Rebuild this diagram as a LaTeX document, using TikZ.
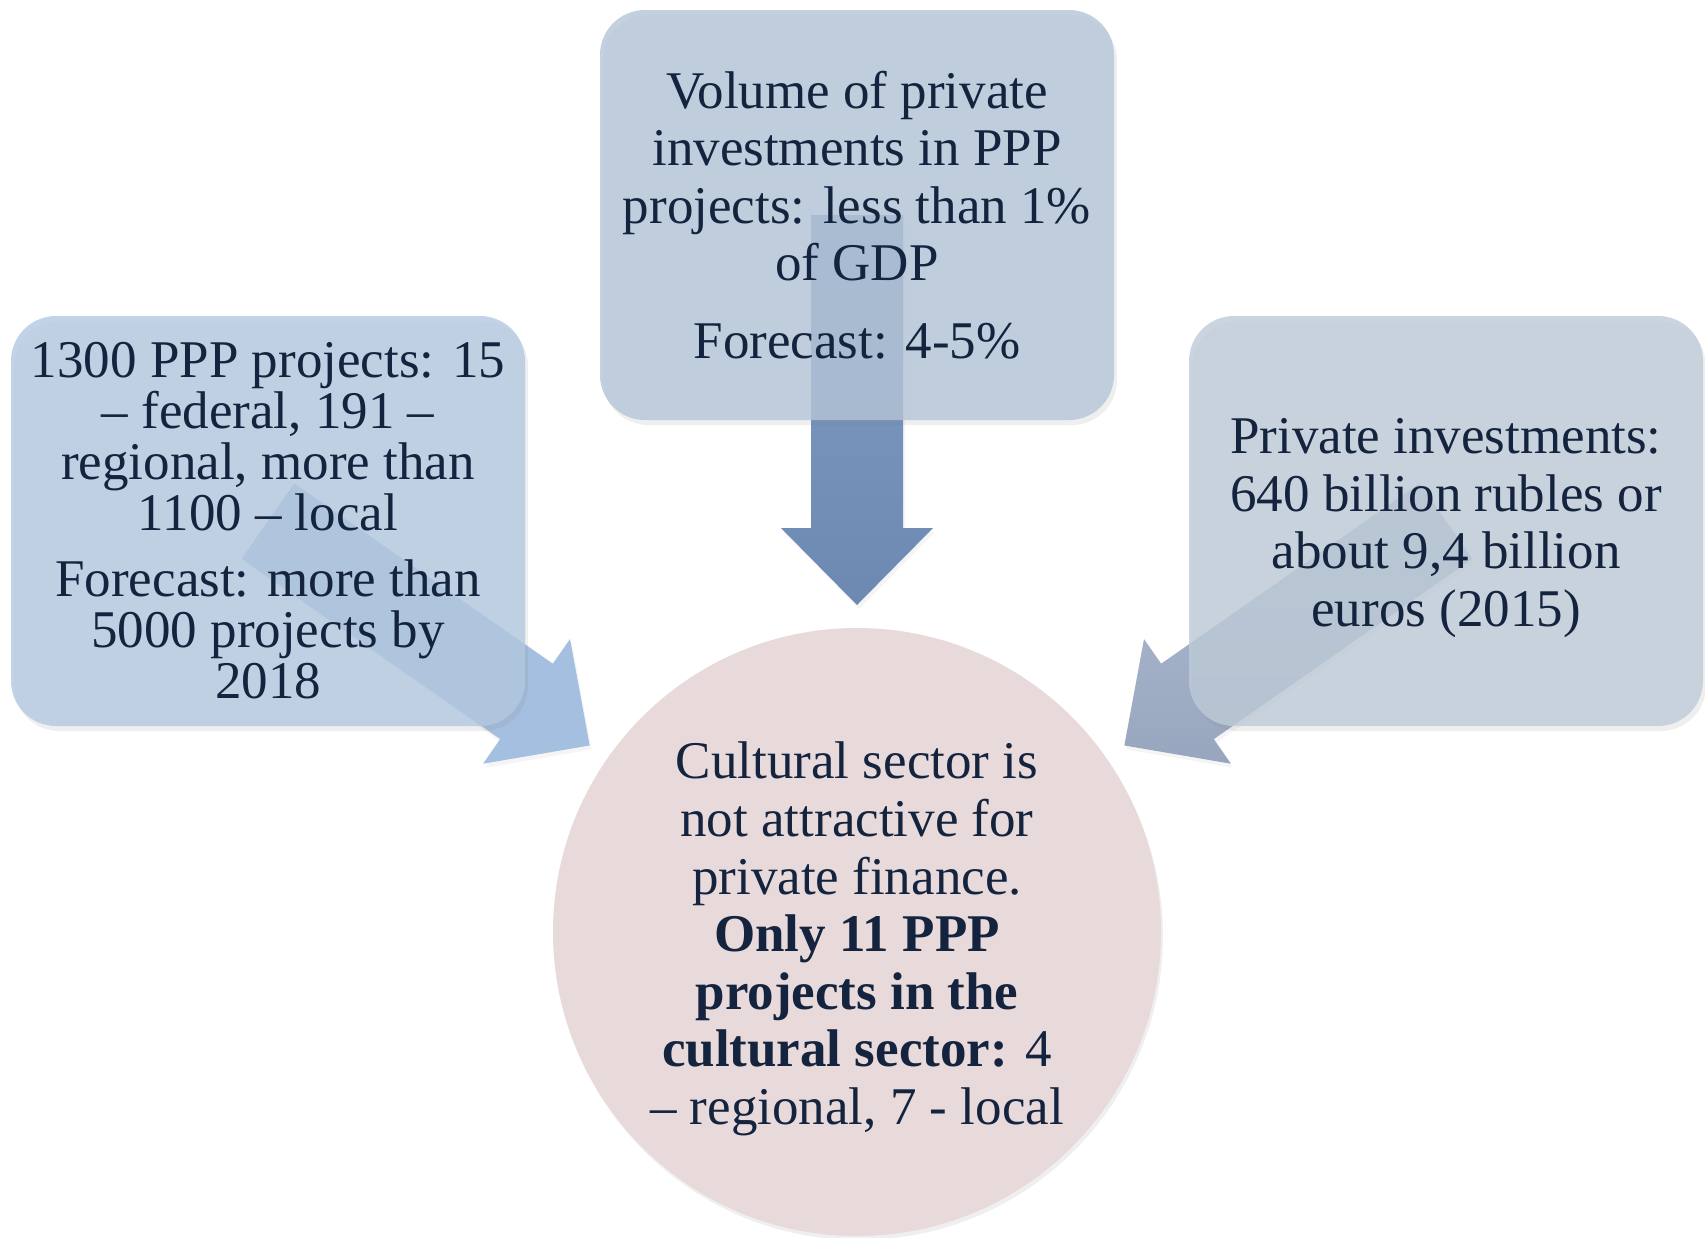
\documentclass[tikz,border=0pt]{standalone}
\usepackage{fontspec}
\setmainfont{Liberation Serif}
\usetikzlibrary{calc,shadows}
\pgfdeclarelayer{back}
\pgfdeclarelayer{bg}
\pgfsetlayers{back,bg,main}
\definecolor{txtc}{HTML}{14243F}
\definecolor{boxLc}{HTML}{B4C9E1}
\definecolor{boxTc}{HTML}{B4C5D8}
\definecolor{boxRc}{HTML}{BECBD8}
\definecolor{circc}{HTML}{E8D9DA}
\definecolor{arrL}{HTML}{A4BFDF}
\definecolor{arrTtop}{HTML}{7D9DC6}
\definecolor{arrTbot}{HTML}{6D89B1}
\definecolor{arrRtop}{HTML}{B3C0D4}
\definecolor{arrRbot}{HTML}{97A5BE}
\newcommand\blkarrow[3]{%
  \coordinate (#2-#3-h) at ($(#3)!77pt!(#2)$);
  \path[#1] ($(#2)!46pt!90:(#3)$) -- ($(#2-#3-h)!46pt!-90:(#2)$) -- ($(#2-#3-h)!76pt!-90:(#2)$)
    -- (#3) -- ($(#2-#3-h)!76pt!90:(#2)$) -- ($(#2-#3-h)!46pt!90:(#2)$) -- ($(#2)!46pt!-90:(#3)$) -- cycle;
}
\tikzset{
  infobox/.style={rounded corners=45pt, minimum width=514pt, minimum height=410pt,
    align=center, text=txtc, fill opacity=0.8, text opacity=1, inner sep=0pt,
    font=\fontsize{53}{57.6}\selectfont,
    drop shadow={shadow xshift=3pt, shadow yshift=-5pt, opacity=0.12}},
  bigcirc/.style={circle, minimum size=608pt, inner sep=0pt, fill=circc, align=center,
    text=txtc, font=\fontsize{53}{57.6}\selectfont,
    drop shadow={shadow xshift=2pt, shadow yshift=-4pt, opacity=0.12}},
  arrowshape/.style={drop shadow={shadow xshift=2pt, shadow yshift=-4pt, opacity=0.08}}
}
\begin{document}
\begin{tikzpicture}[x=1pt,y=-1pt]
\begin{pgfonlayer}{back}
\path[use as bounding box, fill=white] (0,0) rectangle (1705,1237);
\end{pgfonlayer}
\node[infobox, fill=boxLc, font=\fontsize{53}{51}\selectfont] (boxL) at (268,521)
  {1300 PPP projects: 15\\ – federal, 191 –\\ regional, more than\\ 1100 – local\\[15pt]
   Forecast: more than\\ 5000 projects by\\ 2018};
\node[infobox, fill=boxTc] (boxT) at (857,215)
  {Volume of private\\ investments in PPP\\ projects: less than 1\%\\ of GDP\\[20pt] Forecast: 4-5\%};
\node[infobox, fill=boxRc] (boxR) at (1446,521)
  {\rule{0pt}{49pt}Private investments:\\ 640 billion rubles or\\ about 9,4 billion\\ euros (2015)};
\node[bigcirc] (circ) at (857,932)
  {\rule{0pt}{51pt}Cultural sector is\\ not attractive for\\ private finance.\\ \textbf{Only 11 PPP}\\
   \textbf{projects in the}\\ \textbf{cultural sector:} 4\\ – regional, 7 - local};
\coordinate (tipL) at ($(circ.center)!326pt!(boxL.center)$);
\coordinate (tipT) at ($(circ.center)!327pt!(boxT.center)$);
\coordinate (tipR) at ($(circ.center)!326pt!(boxR.center)$);
\coordinate (srcL) at (boxL.center);
\coordinate (srcT) at (boxT.center);
\coordinate (srcR) at (boxR.center);
\begin{pgfonlayer}{bg}
\blkarrow{fill=arrL, arrowshape}{srcL}{tipL}
\blkarrow{top color=arrTtop, bottom color=arrTbot, arrowshape}{srcT}{tipT}
\blkarrow{top color=arrRtop, bottom color=arrRbot, arrowshape}{srcR}{tipR}
\end{pgfonlayer}
\end{tikzpicture}
\end{document}
